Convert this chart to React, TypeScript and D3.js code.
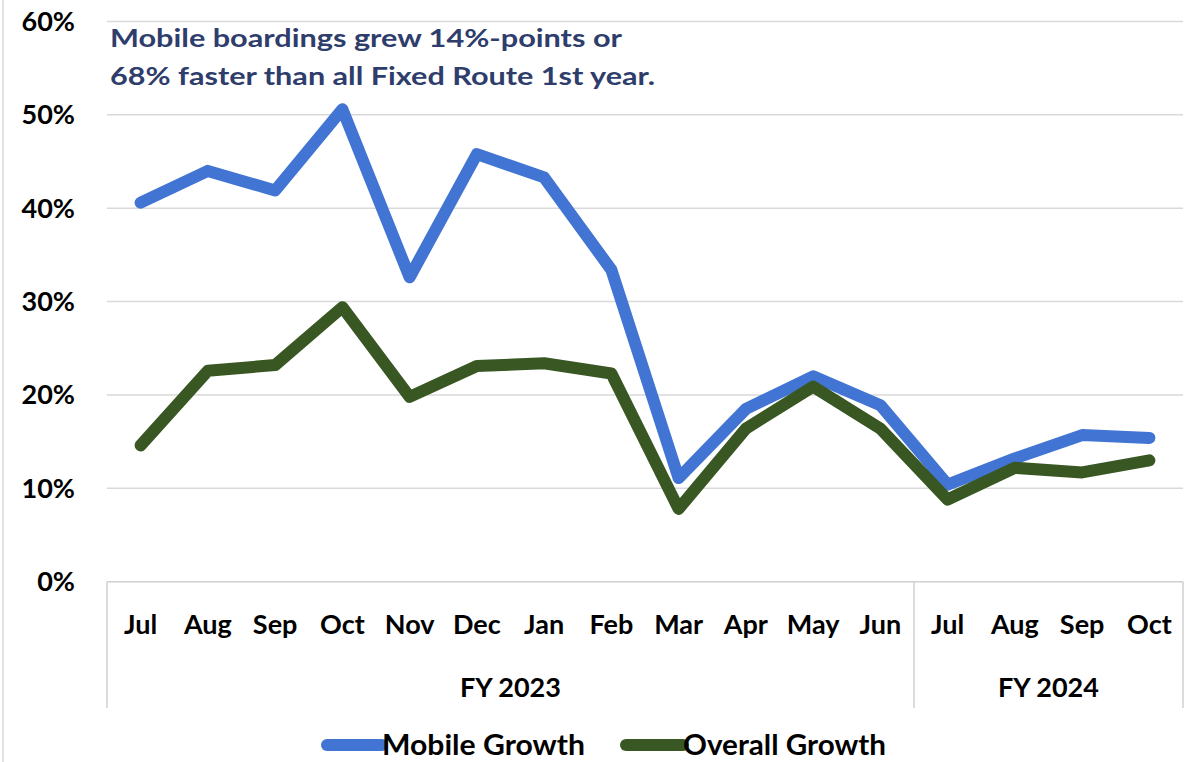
import React from "react";
import * as d3 from "d3";

const months = ["Jul","Aug","Sep","Oct","Nov","Dec","Jan","Feb","Mar","Apr","May","Jun","Jul","Aug","Sep","Oct"];
const fiscalYears = ["FY 2023","FY 2024"];
const fiscalYearSizes = [12, 4];
const mobileGrowth = [40.6,44.0,41.9,50.6,32.6,45.8,43.3,33.4,11.1,18.5,22.0,18.9,10.4,13.2,15.7,15.4];
const overallGrowth = [14.6,22.6,23.2,29.4,19.8,23.1,23.4,22.3,7.8,16.4,20.9,16.4,8.8,12.2,11.7,13.0];
const yTicks = [0,10,20,30,40,50,60];
const seriesNames = ["Mobile Growth","Overall Growth"];
const seriesColors = ["#4274D4","#385723"];
const titleLines = ["Mobile boardings grew 14%-points or","68% faster than all Fixed Route 1st year."];

const W = 1188, H = 762;
const FONT = "Lato, 'Open Sans', sans-serif";

export default function App() {
  const x = d3.scaleBand<number>().domain(d3.range(months.length)).range([107, 1183]).padding(0);
  const cx = (i: number) => (x(i) as number) + x.bandwidth() / 2;
  const y = d3.scaleLinear().domain([0, 60]).range([581.7, 21.5]);
  const line = d3.line<number>().x((_, i) => cx(i)).y(d => y(d));
  const series = [mobileGrowth, overallGrowth];

  let acc = 0;
  const groups = fiscalYears.map((name, gi) => {
    const start = acc;
    acc += fiscalYearSizes[gi];
    return { name, start, end: acc };
  });
  const boxBottom = 708;
  const xLeft = x(0) as number;
  const xRight = (x(months.length - 1) as number) + x.bandwidth();

  const legendItems = [
    { x1: 327, x2: 382, tx: 382, len: 203 },
    { x1: 626, x2: 683, tx: 683, len: 203 },
  ];

  return (
    <svg width={W} height={H} style={{ position: "absolute", left: 0, top: 0, background: "#fff" }} fontFamily={FONT}>
      <rect x={0} y={0} width={W} height={H} fill="#fff" />
      <line x1={3} x2={3} y1={0} y2={H} stroke="#d9d9d9" strokeWidth={1.5} />
      {yTicks.filter(t => t > 0).map(t => (
        <line key={t} x1={xLeft} x2={xRight} y1={y(t)} y2={y(t)} stroke="#d9d9d9" strokeWidth={1.5} />
      ))}
      {yTicks.map(t => (
        <text key={t} x={75} y={y(t)} dy="0.35em" textAnchor="end" fontSize={27} fontWeight={700} fill="#000">{t}%</text>
      ))}
      {/* category axis box */}
      <line x1={xLeft} x2={xRight} y1={y(0)} y2={y(0)} stroke="#d0d0d0" strokeWidth={1.5} />
      <line x1={xLeft} x2={xLeft} y1={y(0)} y2={boxBottom} stroke="#d0d0d0" strokeWidth={1.5} />
      <line x1={xRight} x2={xRight} y1={y(0)} y2={boxBottom} stroke="#d0d0d0" strokeWidth={1.5} />
      {groups.slice(1).map(g => (
        <line key={g.name} x1={x(g.start) as number} x2={x(g.start) as number} y1={y(0)} y2={boxBottom} stroke="#d0d0d0" strokeWidth={1.5} />
      ))}
      {months.map((m, i) => (
        <text key={i} x={cx(i)} y={634} textAnchor="middle" fontSize={27} fontWeight={700} fill="#000">{m}</text>
      ))}
      {groups.map(g => (
        <text key={g.name} x={((x(g.start) as number) + ((x(g.end - 1) as number) + x.bandwidth())) / 2} y={697} textAnchor="middle" fontSize={27} fontWeight={700} fill="#000">{g.name}</text>
      ))}
      {/* lines */}
      {series.map((s, si) => (
        <path key={si} d={line(s) || ""} fill="none" stroke={seriesColors[si]} strokeWidth={12} strokeLinejoin="round" strokeLinecap="round" />
      ))}
      {/* title */}
      <text x={110} y={47} fontSize={25} fontWeight={700} fill="#2E3D6B" textLength={512} lengthAdjust="spacingAndGlyphs">{titleLines[0]}</text>
      <text x={110} y={85} fontSize={25} fontWeight={700} fill="#2E3D6B" textLength={545} lengthAdjust="spacingAndGlyphs">{titleLines[1]}</text>
      {/* legend */}
      {seriesNames.map((n, i) => (
        <g key={n}>
          <line x1={legendItems[i].x1} x2={legendItems[i].x2} y1={745} y2={745} stroke={seriesColors[i]} strokeWidth={12} strokeLinecap="round" />
          <text x={legendItems[i].tx} y={755} fontSize={28} fontWeight={700} fill="#000" textLength={legendItems[i].len} lengthAdjust="spacingAndGlyphs">{n}</text>
        </g>
      ))}
    </svg>
  );
}
